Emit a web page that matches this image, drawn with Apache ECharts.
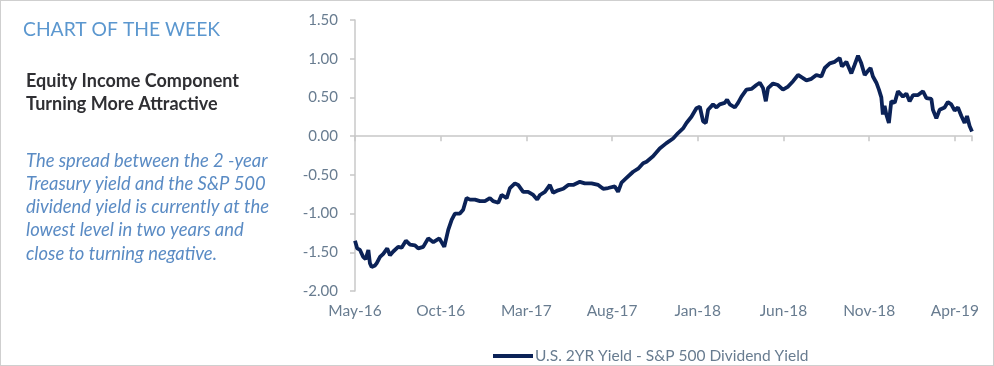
<!DOCTYPE html>
<html><head><meta charset="utf-8">
<script src="https://cdn.jsdelivr.net/npm/echarts@6/dist/echarts.min.js"></script>
<style>
html,body{margin:0;padding:0;background:#fff;}
#c{width:994px;height:366px;box-sizing:border-box;border:1px solid #cfcfcf;}
</style></head>
<body><div id="c"></div>
<script>
// x positions: months elapsed since May-16
const months = [0,0.13,0.29,0.48,0.62,0.78,0.87,0.97,1.17,1.27,1.46,1.65,1.88,2.04,2.23,2.52,2.72,2.97,3.21,3.50,3.69,3.98,4.27,4.57,4.92,5.21,5.44,5.64,5.83,6.12,6.31,6.51,6.71,7.00,7.29,7.58,7.87,8.06,8.36,8.55,8.85,9.04,9.33,9.52,9.81,10.10,10.40,10.63,10.79,11.08,11.37,11.56,11.85,12.15,12.44,12.73,13.12,13.41,13.80,14.19,14.48,14.77,15.16,15.35,15.55,15.84,16.23,16.52,16.81,17.01,17.39,17.78,18.17,18.56,18.85,19.14,19.34,19.63,19.92,20.12,20.31,20.47,20.60,20.89,21.09,21.28,21.57,21.71,21.87,22.16,22.35,22.55,22.84,23.13,23.42,23.62,23.81,23.97,24.10,24.39,24.68,24.97,25.27,25.56,25.85,26.14,26.34,26.63,26.92,27.21,27.41,27.70,27.99,28.28,28.41,28.67,28.96,29.15,29.35,29.54,29.74,29.92,30.08,30.22,30.42,30.57,30.71,30.80,30.90,31.00,31.15,31.29,31.49,31.68,31.97,32.17,32.36,32.56,32.85,33.14,33.34,33.63,33.72,33.92,34.11,34.40,34.59,34.79,34.99,35.18,35.38,35.57,35.71,35.86,36.0];
// U.S. 2YR Yield - S&P 500 Dividend Yield (%)
const spread = [-1.35,-1.45,-1.47,-1.56,-1.59,-1.47,-1.64,-1.69,-1.67,-1.64,-1.56,-1.52,-1.45,-1.54,-1.49,-1.43,-1.44,-1.35,-1.40,-1.41,-1.45,-1.43,-1.32,-1.37,-1.32,-1.43,-1.21,-1.08,-1.00,-1.00,-0.95,-0.80,-0.82,-0.82,-0.84,-0.84,-0.80,-0.84,-0.86,-0.76,-0.80,-0.67,-0.61,-0.63,-0.72,-0.72,-0.76,-0.82,-0.76,-0.72,-0.63,-0.73,-0.70,-0.68,-0.63,-0.63,-0.59,-0.61,-0.61,-0.63,-0.68,-0.67,-0.65,-0.72,-0.60,-0.54,-0.46,-0.42,-0.35,-0.33,-0.26,-0.16,-0.09,-0.03,0.04,0.10,0.17,0.25,0.36,0.38,0.19,0.17,0.34,0.41,0.37,0.41,0.43,0.47,0.41,0.37,0.43,0.51,0.60,0.61,0.66,0.69,0.62,0.45,0.62,0.68,0.66,0.60,0.64,0.71,0.79,0.75,0.72,0.74,0.79,0.77,0.88,0.94,0.96,1.01,0.90,0.96,0.81,0.92,1.04,0.94,0.79,0.84,0.88,0.77,0.69,0.60,0.50,0.28,0.39,0.28,0.17,0.45,0.43,0.58,0.51,0.55,0.45,0.53,0.53,0.58,0.49,0.48,0.34,0.23,0.34,0.37,0.44,0.41,0.33,0.37,0.26,0.17,0.26,0.13,0.06];
const tickLabels = ['May-16','Oct-16','Mar-17','Aug-17','Jan-18','Jun-18','Nov-18','Apr-19'];
const seriesName = 'U.S. 2YR Yield - S&P 500 Dividend Yield';

const chart = echarts.init(document.getElementById('c'));
const labelColor = '#687c90';
const FONT = 'Lato';
chart.setOption({
  animation: false,
  textStyle: {fontFamily: FONT},
  grid: {left: 354, right: 21, top: 19, bottom: 74, containLabel: false},
  xAxis: [{
    type: 'value', min: 0, max: 36, interval: 5, position: 'bottom',
    axisLine: {show: false, onZero: false}, axisTick: {show: false}, splitLine: {show: false},
    axisLabel: {color: labelColor, fontSize: 15.5, fontFamily: FONT, margin: 12, showMaxLabel: false,
      formatter: v => tickLabels[Math.round(v / 5)] || ''}
  }, {
    type: 'value', min: 0, max: 36, interval: 5, position: 'top',
    axisLine: {show: true, onZero: true, lineStyle: {color: '#c8c8c8', width: 1.5}},
    axisTick: {show: true, inside: true, length: 5, lineStyle: {color: '#c8c8c8', width: 1.5}},
    axisLabel: {show: false}, splitLine: {show: false}
  }],
  yAxis: {
    type: 'value', min: -2, max: 1.5, interval: 0.5,
    axisLine: {show: true, lineStyle: {color: '#c8c8c8', width: 1.5}},
    axisTick: {show: true, length: 5, lineStyle: {color: '#c8c8c8', width: 1.5}},
    splitLine: {show: false},
    axisLabel: {color: labelColor, fontSize: 15, fontFamily: FONT, margin: 17, formatter: v => v.toFixed(2)}
  },
  legend: {
    left: 487, top: 342, itemWidth: 40, itemHeight: 4, icon: 'rect', itemGap: 4,
    textStyle: {color: labelColor, fontSize: 15.5, fontFamily: FONT, padding: [0,0,0,-3]},
    data: [seriesName]
  },
  series: [{
    name: seriesName, type: 'line', xAxisIndex: 0, showSymbol: false, symbol: 'none',
    lineStyle: {color: '#0b2257', width: 3.8}, itemStyle: {color: '#0b2257'},
    data: months.map((m, i) => [m, spread[i]])
  }],
  graphic: [
    {type: 'text', left: 22, top: 19, style: {text: 'CHART OF THE WEEK', fill: '#5b97cf', font: '19.3px ' + FONT}},
    {type: 'text', left: 25, top: 69, style: {text: 'Equity Income Component\nTurning More Attractive', fill: '#2f2f33', font: 'bold 18px ' + FONT, lineHeight: 23}},
    {type: 'text', left: 25, top: 148, style: {text: 'The spread between the 2 -year\nTreasury yield and the S&P 500\ndividend yield is currently at the\nlowest level in two years and\nclose to turning negative.', fill: '#5a8bc4', font: 'italic 18.4px ' + FONT, lineHeight: 23.3}}
  ]
});
</script></body></html>
